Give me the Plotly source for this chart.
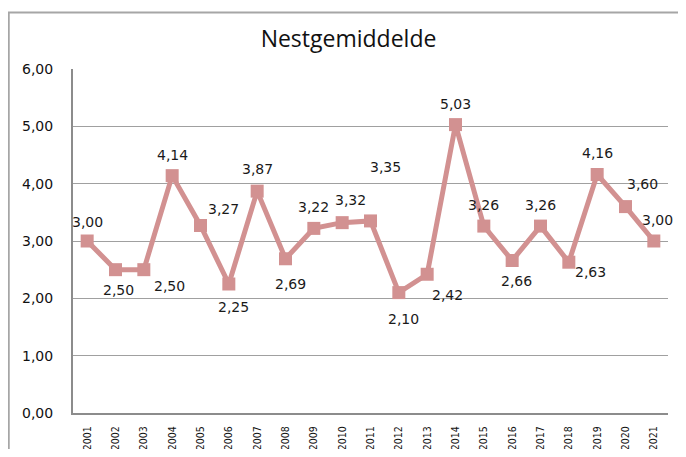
import plotly.graph_objects as go

years = [str(y) for y in range(2001, 2022)]
values = [3.00, 2.50, 2.50, 4.14, 3.27, 2.25, 3.87, 2.69, 3.22, 3.32, 3.35,
          2.10, 2.42, 5.03, 3.26, 2.66, 3.26, 2.63, 4.16, 3.60, 3.00]
y_ticks = [0, 1, 2, 3, 4, 5, 6]

# label pixel offsets (dx, dy upward positive)
label_dx = [0, 3, 26, 0, 23, 5, 0, 5, 0, 8, 15, 5, 20, 0, 0, 4, 0, 22, 0, 17, 4]
label_dy = [19, -20, -16, 21, 17, -23, 22, -25, 21, 23, 54, -26, -21, 21, 21, -21, 21, -10, 21, 23, 21]

line_color = "#D29191"

fig = go.Figure()
fig.add_trace(go.Scatter(
    x=years, y=values, mode="lines+markers",
    line=dict(color=line_color, width=5),
    marker=dict(symbol="square", size=13, color=line_color),
    hoverinfo="skip", showlegend=False,
))

for i, (v, dx, dy) in enumerate(zip(values, label_dx, label_dy)):
    fig.add_annotation(
        x=i, y=v, text=f"{v:.2f}".replace(".", ","), showarrow=False,
        xshift=dx, yshift=dy,
        font=dict(family="DejaVu Sans", size=14, color="#1a1a1a"),
    )

fig.add_shape(type="rect", xref="paper", yref="paper",
              x0=-0.108, x1=1.3, y0=-0.4, y1=1.164,
              line=dict(color="#A6A6A6", width=2), layer="below")

W, H = 678, 441
fig.update_layout(
    width=W, height=H,
    margin=dict(l=65, r=18, t=61, b=36),
    paper_bgcolor="white", plot_bgcolor="white",
    separators=",.",
    title=dict(text="Nestgemiddelde", x=340.5 / W, xanchor="center",
               y=1 - 30.5 / H, yanchor="middle", yref="container", xref="container",
               font=dict(family="Open Sans", size=23, color="#111111")),
    xaxis=dict(
        type="category", tickangle=-90, showgrid=False, automargin=False,
        showline=True, linecolor="#8C8C8C", linewidth=2,
        ticks="", ticklabelstandoff=7,
        tickfont=dict(family="Liberation Sans Narrow, DejaVu Sans Condensed", size=10.5, color="#111111"),
        range=[-0.5, len(years) - 0.5],
    ),
    yaxis=dict(
        range=[0, 6], tickvals=y_ticks, tickformat=".2f", automargin=False,
        showgrid=True, gridcolor="#A0A0A0", gridwidth=1,
        showline=True, linecolor="#8C8C8C", linewidth=2,
        ticks="", ticklabelstandoff=15, zeroline=False,
        tickfont=dict(family="DejaVu Sans", size=14, color="#111111"),
    ),
)

fig.write_html("out.html")
